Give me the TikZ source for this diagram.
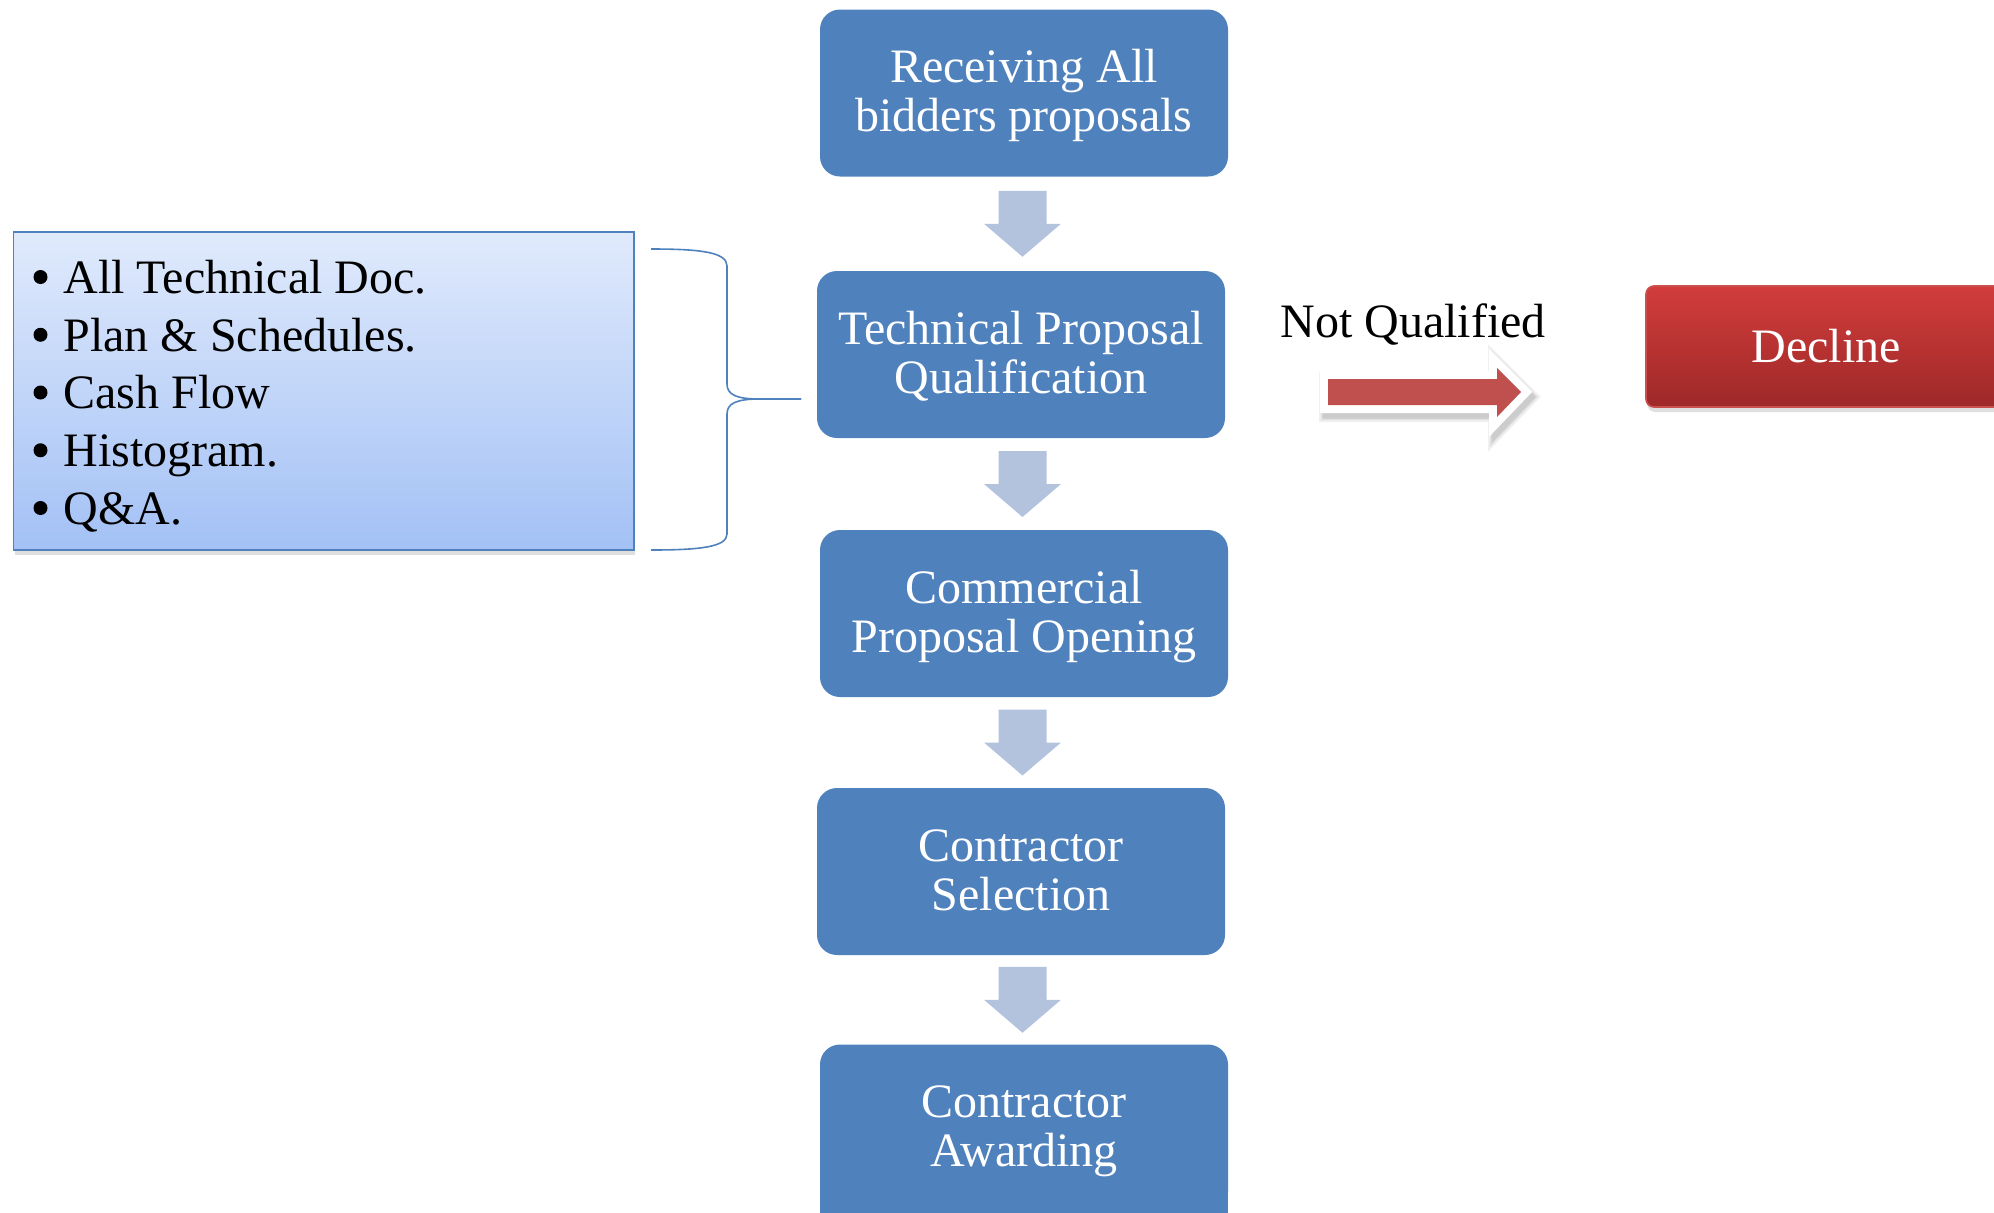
\documentclass[tikz,border=0pt]{standalone}
\usepackage{fontspec}
\setmainfont{Liberation Serif}
\usetikzlibrary{calc,shadows}
\definecolor{boxblue}{HTML}{4F81BD}
\definecolor{arrowblue}{HTML}{B3C3DE}
\definecolor{listtop}{HTML}{E0EAFC}
\definecolor{listbot}{HTML}{A3C1F5}
\definecolor{redarrow}{HTML}{C0504D}
\definecolor{redtop}{HTML}{D13D3B}
\definecolor{redbot}{HTML}{9E2828}
\definecolor{redline}{HTML}{C9504C}
\newcommand\mytopstrut{\rule{0pt}{20pt}}
\newcommand\mybotstrut{\rule[-6pt]{0pt}{6pt}}
\newcommand\flowarrow[2]{%
  \path ($(#1.south)!0.5!(#2.north)$) coordinate (m-#1);
  \fill[arrowblue] ($(m-#1)+(-24,-33)$) -- ($(m-#1)+(24,-33)$) -- ($(m-#1)+(24,0)$)
    -- ($(m-#1)+(38.5,0)$) -- ($(m-#1)+(0,33)$) -- ($(m-#1)+(-38.5,0)$)
    -- ($(m-#1)+(-24,0)$) -- cycle;}
\newcommand\redshape{(1328,379) -- (1497,379) -- (1497,368) -- (1521,392) -- (1497,417) -- (1497,405) -- (1328,405) -- cycle}
\begin{document}
\begin{tikzpicture}[x=0.5pt,y=-0.5pt,
  flowbox/.style={rectangle, rounded corners=10pt, fill=boxblue, minimum width=204pt,
    minimum height=83.5pt, inner sep=0pt, text=white, align=center,
    font=\fontsize{24pt}{24.5pt}\selectfont},
  listbox/.style={rectangle, draw=boxblue, line width=0.8pt, top color=listtop,
    bottom color=listbot, minimum width=310.2pt, minimum height=159pt, inner sep=0pt,
    drop shadow={shadow xshift=0.6pt,shadow yshift=-2.5pt,opacity=0.25}},
  listtext/.style={inner sep=0pt, align=left, font=\fontsize{24pt}{28.875pt}\selectfont},
  listbullet/.style={fill=black},
  declinebox/.style={rectangle, rounded corners=4pt, draw=redline, line width=0.8pt,
    top color=redtop, bottom color=redbot, minimum width=180pt, minimum height=60.5pt,
    inner sep=0pt, text=white, font=\fontsize{24pt}{24.5pt}\selectfont,
    drop shadow={shadow xshift=0.6pt,shadow yshift=-2.5pt,opacity=0.25}},
  plainlabel/.style={inner sep=0pt, font=\fontsize{24pt}{24.5pt}\selectfont},
  bracestyle/.style={draw=boxblue, line width=0.8pt}
]
\useasboundingbox (0,0) rectangle (1994,1212);

% flow boxes
\node[flowbox] (b1) at (1024,93) {\mytopstrut Receiving All\\bidders proposals\mybotstrut};
\node[flowbox] (b2) at (1021,354.5) {\mytopstrut Technical Proposal\\Qualification\mybotstrut};
\node[flowbox] (b3) at (1024,613.5) {\mytopstrut Commercial\\Proposal Opening\mybotstrut};
\node[flowbox] (b4) at (1021,871.5) {\mytopstrut Contractor\\Selection\mybotstrut};
\fill[boxblue] (1024,1128) ++(-204,0) rectangle ++(408,100);
\node[flowbox] (b5) at (1024,1128) {\mytopstrut Contractor\\Awarding\mybotstrut};

% block arrows
\flowarrow{b1}{b2}
\flowarrow{b2}{b3}
\flowarrow{b3}{b4}
\flowarrow{b4}{b5}

% list box
\node[listbox] (list) at (323.8,391) {};
\node[listtext, anchor=north west] (items) at (63,253) {%
\mytopstrut All Technical Doc.\\
Plan \& Schedules.\\
Cash Flow\\
Histogram.\\
Q\&A.};
\foreach \i in {0,...,4}
  \fill[listbullet] (40.5,{277+\i*57.75}) circle (7);

% brace
\coordinate (bracetip) at (801,399);
\draw[bracestyle] (651,249) .. controls (700,249) and (727,252) .. (727,266)
  -- (727,384) .. controls (727,395) and (737,399) .. (760,399) -- (bracetip);
\draw[bracestyle] (bracetip) -- (760,399) .. controls (737,399) and (727,403) .. (727,414)
  -- (727,534) .. controls (727,547) and (700,550) .. (651,550);

% not qualified
\node[plainlabel, anchor=base] (nq) at (1413,337) {Not Qualified};

% red block arrow with white border and soft shadow
\begin{scope}[shift={(3,5)}]
\draw[black!6, fill=black!6, line width=12pt, line join=miter] \redshape;
\draw[black!12, fill=black!12, line width=10pt, line join=miter] \redshape;
\draw[black!20, fill=black!20, line width=8.5pt, line join=miter] \redshape;
\end{scope}
\draw[white, fill=white, line width=8pt, line join=miter] \redshape;
\fill[redarrow] \redshape;

% decline
\node[declinebox] (decline) at (1826,346.5) {Decline};
\end{tikzpicture}
\end{document}
